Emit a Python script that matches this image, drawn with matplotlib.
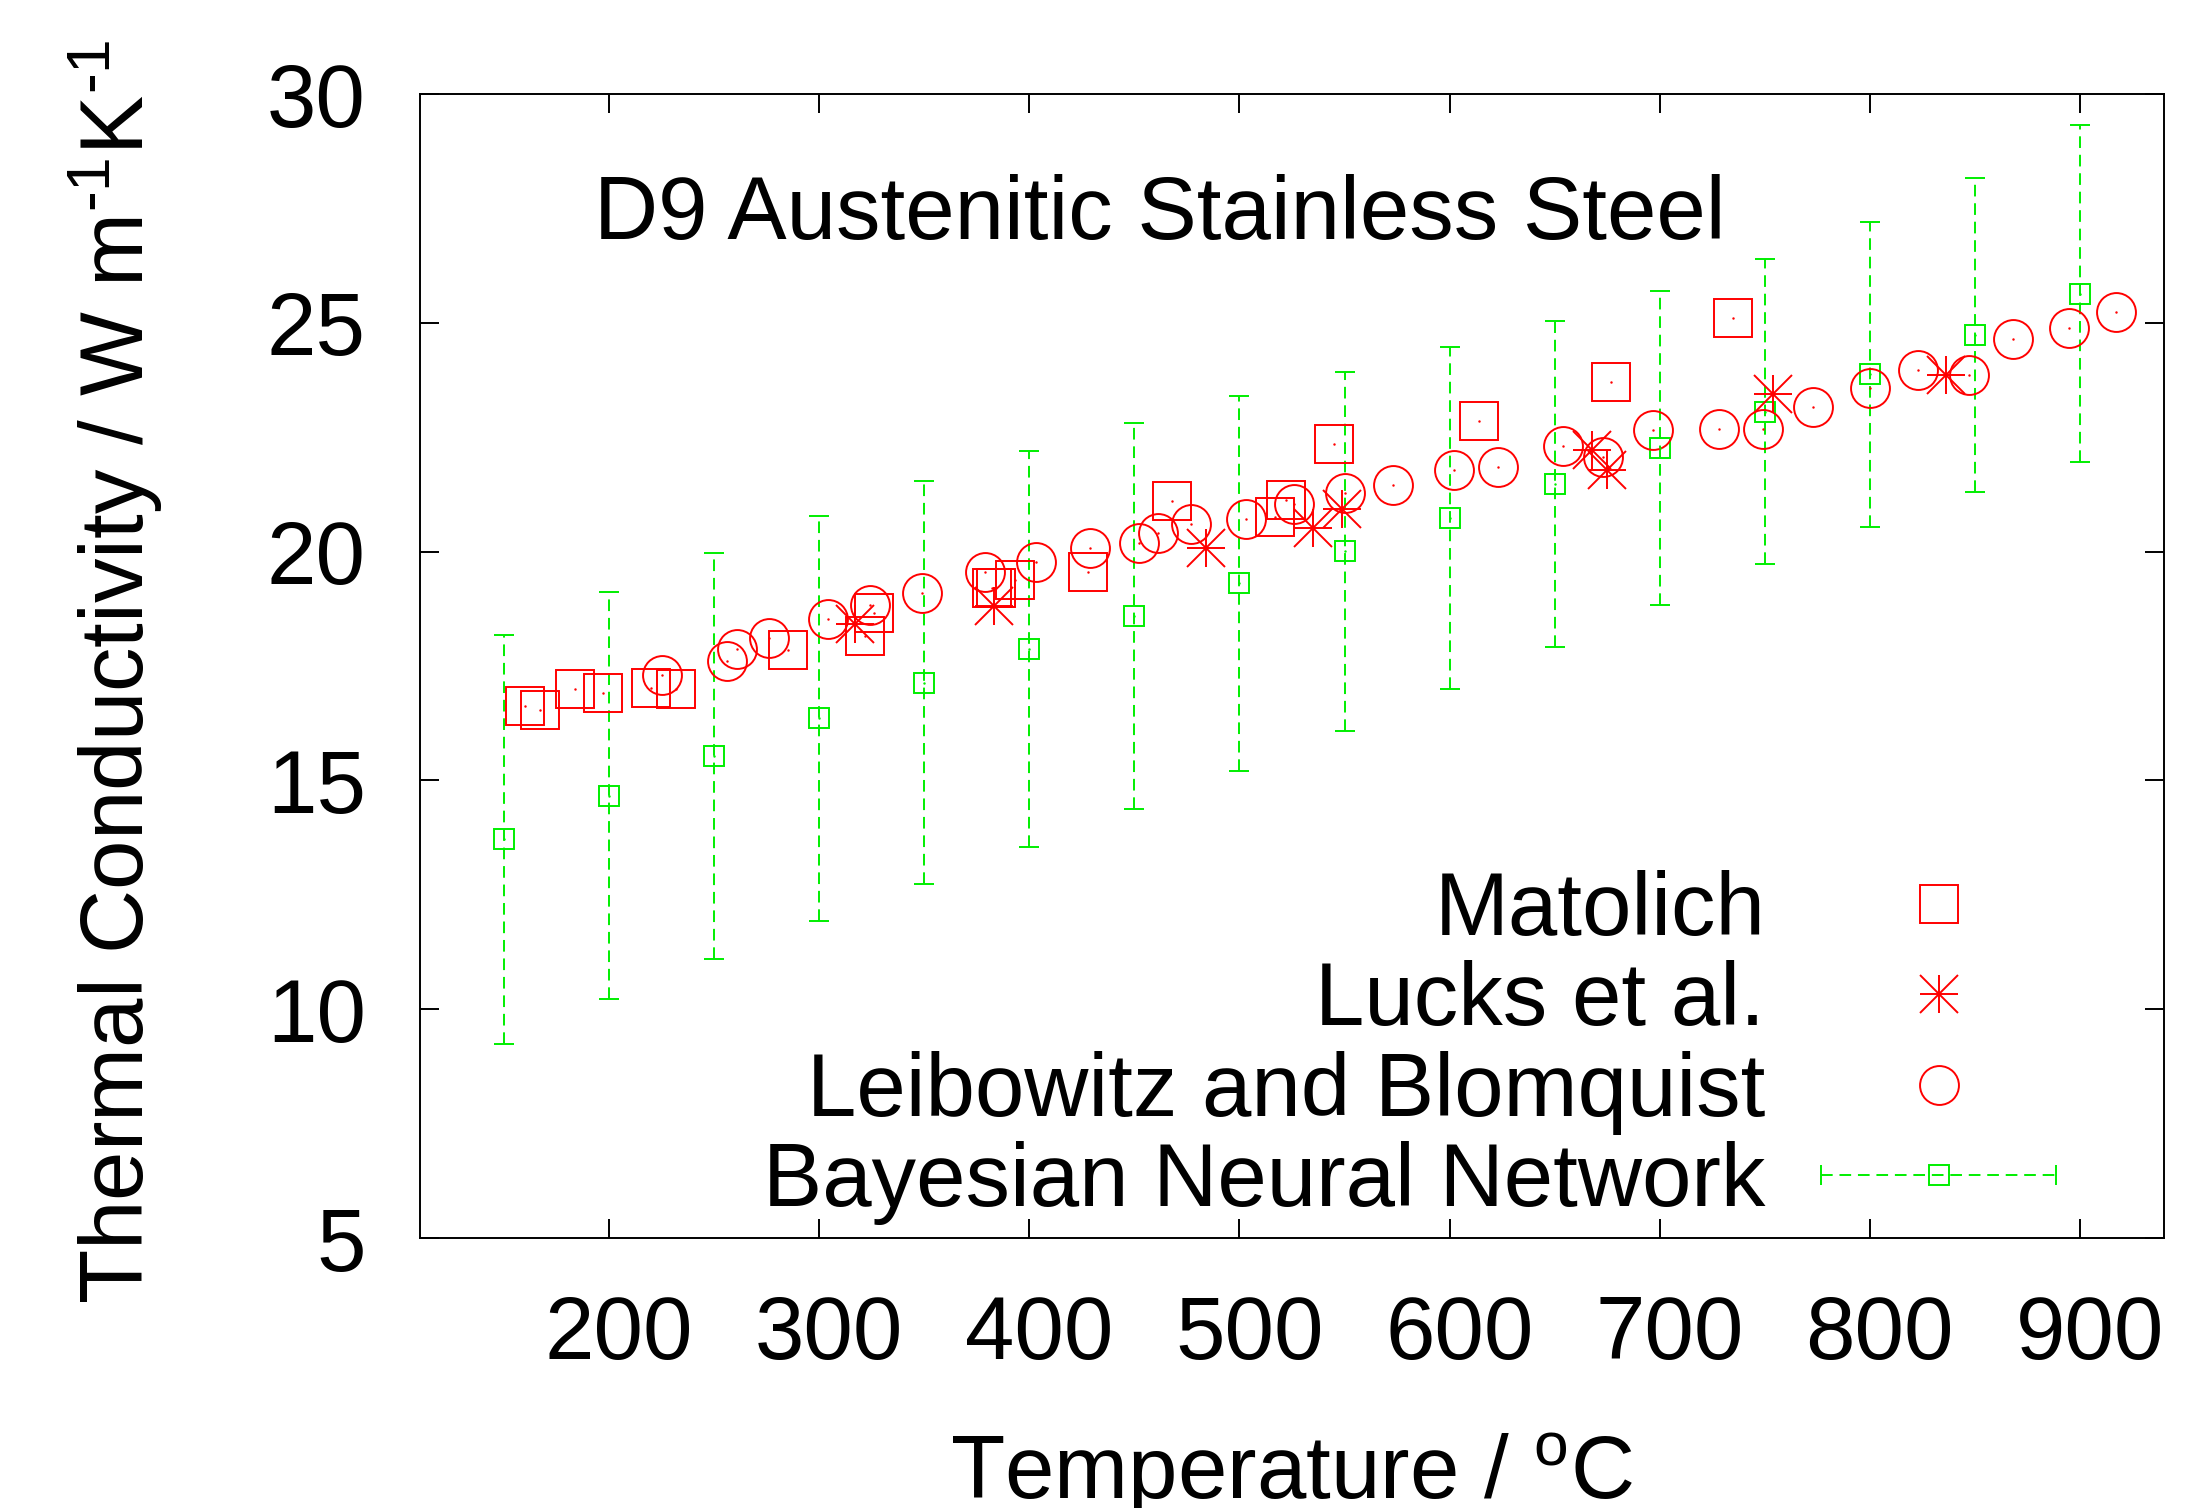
import numpy as np
import matplotlib
matplotlib.use("Agg")
import matplotlib.pyplot as plt
from matplotlib.lines import Line2D
from matplotlib.legend_handler import HandlerLine2D
from matplotlib.transforms import ScaledTranslation

plt.rcParams['font.family'] = ['Liberation Sans', 'DejaVu Sans']
plt.rcParams['mathtext.fontset'] = 'custom'
plt.rcParams['mathtext.rm'] = 'Liberation Sans'
plt.rcParams['mathtext.it'] = 'Liberation Sans:italic'

# Matolich (squares)
mat_t = [160, 167, 184, 197, 220, 232, 285, 322, 326, 382, 384, 393, 428,
         468, 517, 522, 545, 614, 677, 735]
mat_k = [16.63, 16.54, 17.0, 16.92, 17.03, 17.0, 17.85, 18.15, 18.67, 19.2,
         19.2, 19.39, 19.56, 21.11, 20.76, 21.13, 22.35, 22.85, 23.7, 25.1]

# Lucks et al. (asterisks)
luc_t = [317, 383, 484, 535, 549, 668, 675, 754, 836]
luc_k = [18.43, 18.81, 20.09, 20.52, 20.94, 22.22, 21.79, 23.45, 23.87]

# Leibowitz and Blomquist (circles)
lei_t = [225, 256, 261, 276, 304, 324, 349, 379, 403, 429, 452, 461, 477,
         503, 526, 550, 573, 602, 623, 654, 673, 697, 728, 749, 773, 800,
         823, 847, 868, 895, 917]
lei_k = [17.3, 17.62, 17.87, 18.12, 18.53, 18.83, 19.09, 19.56, 19.77, 20.08,
         20.2, 20.4, 20.6, 20.71, 21.04, 21.28, 21.46, 21.79, 21.86, 22.31,
         22.07, 22.65, 22.69, 22.69, 23.17, 23.57, 23.98, 23.87, 24.64, 24.88,
         25.24]

# Bayesian neural network prediction with error bars
bnn_t = [150, 200, 250, 300, 350, 400, 450, 500, 550, 600, 650, 700, 750,
         800, 850, 900]
bnn_k = [13.72, 14.67, 15.54, 16.36, 17.14, 17.87, 18.59, 19.31, 20.01, 20.74,
         21.48, 22.26, 23.06, 23.88, 24.74, 25.64]
bnn_err = [4.47, 4.44, 4.44, 4.43, 4.4, 4.33, 4.22, 4.1, 3.92, 3.74, 3.57,
           3.43, 3.33, 3.33, 3.43, 3.68]

red = '#ff0000'
green = '#00ee00'
fs = 64
ms = 28
mew = 1.4

fig = plt.figure(figsize=(21.93, 15.08), dpi=100)
ax = fig.add_axes([0.1915, 0.179, 0.7953, 0.7586])

eb = ax.errorbar(bnn_t, bnn_k, yerr=bnn_err, fmt='s', ms=15, mfc='none',
                 mec=green, mew=mew, ecolor=green, elinewidth=mew,
                 capsize=7, capthick=mew, zorder=2)
eb[2][0].set_linestyle((0, (6, 3.5)))

ax.plot(mat_t, mat_k, 's', ms=ms, mfc='none', mec=red, mew=mew, zorder=3)
ax.plot(luc_t, luc_k, '+', ms=ms, mec=red, mew=mew, zorder=3)
ax.plot(luc_t, luc_k, 'x', ms=ms, mec=red, mew=mew, zorder=3)
ax.plot(lei_t, lei_k, 'o', ms=ms, mfc='none', mec=red, mew=mew, zorder=3)

# small centre dots like the gnuplot point symbols
for t, k in [(mat_t, mat_k), (luc_t, luc_k), (lei_t, lei_k)]:
    ax.plot(t, k, '.', ms=1.5, color=red, zorder=4)
ax.plot(bnn_t, bnn_k, '.', ms=1.5, color=green, zorder=4)

ax.set_xlim(110, 940)
ax.set_ylim(5, 30)
ax.set_xticks(np.arange(200, 901, 100))
ax.set_yticks(np.arange(5, 31, 5))
ax.tick_params(axis='both', direction='in', length=14, width=1.4,
               top=True, right=True, labelsize=fs)
ax.tick_params(axis='x', pad=40)
ax.tick_params(axis='y', pad=39)
for s in ax.spines.values():
    s.set_linewidth(1.4)

# gnuplot puts the x tick labels a little right of the tick
shift = ScaledTranslation(7 / 72, 0, fig.dpi_scale_trans)
for lab in ax.get_xticklabels():
    lab.set_transform(lab.get_transform() + shift)

ax.text(0.0998, 0.873, 'D9 Austenitic Stainless Steel', transform=ax.transAxes,
        fontsize=fs, ha='left', va='baseline')

ax.set_xlabel(r'Temperature / $^{\rm o}$C', fontsize=fs)
ax.xaxis.label.set_va('baseline')
ax.xaxis.set_label_coords(0.5, -0.228)
ax.set_ylabel(r'Thermal Conductivity / W m$^{\text{-}1}$K$^{\text{-}1}$',
              fontsize=fs)
ax.yaxis.label.set_va('baseline')
ax.yaxis.set_label_coords(-0.158, 0.495)

# legend
h_mat = Line2D([], [], ls='none', marker='s', ms=ms, mfc='none', mec=red, mew=mew)
h_plus = Line2D([], [], ls='none', marker='+', ms=ms, mec=red, mew=mew)
h_x = Line2D([], [], ls='none', marker='x', ms=ms, mec=red, mew=mew)
h_lei = Line2D([], [], ls='none', marker='o', ms=ms, mfc='none', mec=red, mew=mew)
h_line = Line2D([], [], color=green, lw=mew, ls=(0, (6, 3.5)))
h_caps = Line2D([], [], ls='none', marker='|', ms=14, mec=green, mew=mew)
h_sq = Line2D([], [], ls='none', marker='s', ms=15, mfc='none', mec=green, mew=mew)

ax.legend([h_mat, (h_plus, h_x), h_lei, (h_line, h_caps, h_sq)],
          ['Matolich', 'Lucks et al.', 'Leibowitz and Blomquist',
           'Bayesian Neural Network'],
          handler_map={h_caps: HandlerLine2D(numpoints=2, marker_pad=0)},
          loc='lower right', bbox_to_anchor=(0.938, 0.0115), frameon=False,
          fontsize=fs, markerfirst=False, handlelength=2.64,
          handletextpad=0.63, labelspacing=0.07, borderpad=0,
          borderaxespad=0, numpoints=1)

fig.savefig('out.png', dpi=100)
